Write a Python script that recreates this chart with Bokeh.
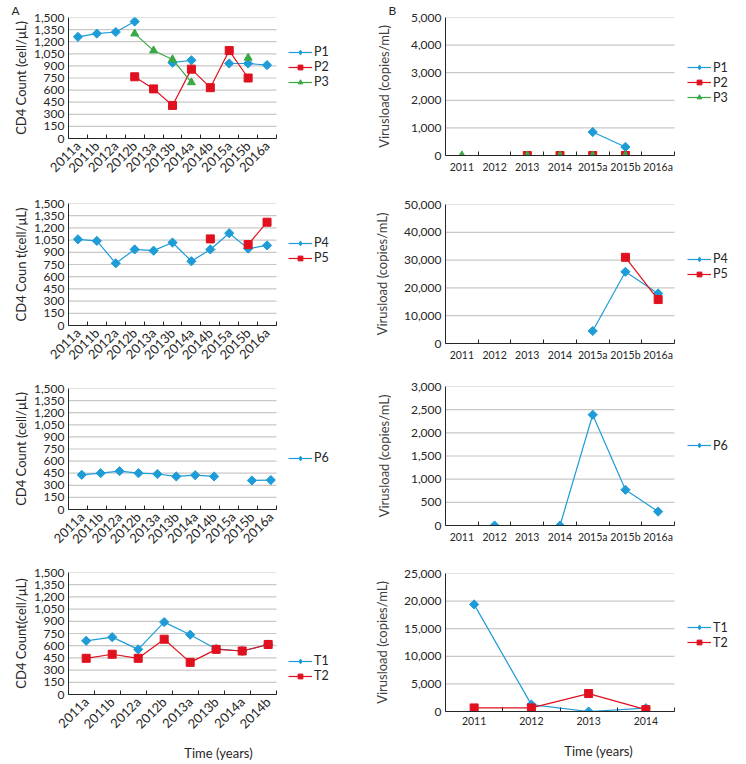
import math
from bokeh.plotting import figure
from bokeh.models import (FixedTicker, NumeralTickFormatter, Legend, LegendItem,
                          Title, ColumnDataSource)
from bokeh.layouts import row, column
from bokeh.embed import file_html
from bokeh.resources import INLINE

nan = float("nan")

# ---------------- data ----------------
cat_a = ["2011a", "2011b", "2012a", "2012b", "2013a", "2013b", "2014a", "2014b", "2015a", "2015b", "2016a"]
cat_b = ["2011", "2012", "2013", "2014", "2015a", "2015b", "2016a"]
cat_t = ["2011a", "2011b", "2012a", "2012b", "2013a", "2013b", "2014a", "2014b"]
cat_tb = ["2011", "2012", "2013", "2014"]

p1_cd4 = [1260, 1300, 1320, 1450, nan, 940, 970, nan, 930, 930, 910]
p2_cd4 = [nan, nan, nan, 765, 615, 410, 860, 630, 1090, 750, nan]
p3_cd4 = [nan, nan, nan, 1300, 1090, 980, 695, nan, nan, 1000, nan]
p4_cd4 = [1060, 1040, 765, 935, 920, 1020, 790, 935, 1135, 945, 985]
p5_cd4 = [nan, nan, nan, nan, nan, nan, nan, 1065, nan, 995, 1270]
p6_cd4 = [430, 450, 475, 450, 440, 410, 425, 410, nan, 360, 365]
t1_cd4 = [660, 705, 555, 890, 735, 560, 535, 615]
t2_cd4 = [445, 495, 445, 680, 395, 555, 535, 615]

p1_vl = [nan, nan, nan, nan, 850, 310, nan]
p2_vl = [nan, nan, 0, 0, 0, 0, nan]
p3_vl = [0, nan, 0, 0, 0, 0, nan]
p4_vl = [nan, nan, nan, nan, 4500, 25800, 18000]
p5_vl = [nan, nan, nan, nan, nan, 31000, 15800]
p6_vl = [nan, 0, nan, 0, 2390, 770, 300]
t1_vl = [19400, 1250, 0, 600]
t2_vl = [650, 650, 3250, 350]

# ---------------- style ----------------
FONT = "Lato"
BLUE = "#1E9CD7"
RED = "#E0101E"
GREEN = "#3AA845"
TXT = "#262626"
GRID = "#c8c8c8"
# (colour, marker, size, angle, legend marker, legend size)
DIAM = (BLUE, "square", 6.5, math.pi / 4, "diamond", 11.5)
SQ = (RED, "square", 8, 0, "square", 8)
TRI = (GREEN, "triangle", 8, 0, "triangle", 8)
STYLE = {"P1": DIAM, "P4": DIAM, "P6": DIAM, "T1": DIAM,
         "P2": SQ, "P5": SQ, "T2": SQ, "P3": TRI}


def make_fig(cats, yend, ystep, ylabel, width, height, left, data_w, top, bottom,
             rotate, offset=0.0, xlabel=None, ylabel_color=TXT, xlabel_standoff=16,
             ylabel_standoff=2):
    n = len(cats)
    right = 2
    frame_w = width - left - right
    frame_h = height - top - bottom
    x_end = n * frame_w / data_w          # plot area wider than the axis: room for the legend
    p = figure(frame_width=frame_w, frame_height=frame_h, x_range=(0, x_end), y_range=(0, yend),
               output_backend="svg", toolbar_location=None,
               min_border_left=left, min_border_right=right,
               min_border_top=top, min_border_bottom=bottom)
    p.outline_line_color = None
    p.background_fill_color = "white"
    p.xgrid.visible = False
    p.ygrid.visible = False

    yticks = list(range(0, yend + 1, ystep))
    # horizontal gridlines limited to the axis extent
    p.segment(x0=[0] * len(yticks), x1=[n] * len(yticks), y0=yticks, y1=yticks,
              line_color=GRID, line_width=1.2, level="underlay")

    centers = [i + 0.5 + offset for i in range(n)]
    p.xaxis.bounds = (0, n)
    p.xaxis.ticker = FixedTicker(ticks=centers, minor_ticks=list(range(n + 1)))
    p.xaxis.major_label_overrides = {c: lab for c, lab in zip(centers, cats)}
    p.xaxis.major_tick_in = 0
    p.xaxis.major_tick_out = 0
    p.xaxis.minor_tick_in = 4
    p.xaxis.minor_tick_out = 0
    p.xaxis.minor_tick_line_color = "#262626"
    p.xaxis.axis_line_color = "#262626"
    p.xaxis.major_label_text_font = FONT
    p.xaxis.major_label_text_color = TXT
    if rotate:
        p.xaxis.major_label_text_font_size = "13px"
        p.xaxis.major_label_orientation = math.pi / 4
        p.xaxis.major_label_standoff = 5
    else:
        p.xaxis.major_label_text_font_size = "10.5px"
        p.xaxis.major_label_standoff = 5
    if xlabel:
        p.xaxis.axis_label = xlabel
        p.xaxis.axis_label_text_font = FONT
        p.xaxis.axis_label_text_font_size = "13px"
        p.xaxis.axis_label_text_font_style = "normal"
        p.xaxis.axis_label_text_color = TXT
        p.xaxis.axis_label_standoff = xlabel_standoff

    p.yaxis.ticker = FixedTicker(ticks=yticks)
    p.yaxis.formatter = NumeralTickFormatter(format="0,0")
    p.yaxis.major_tick_in = 0
    p.yaxis.major_tick_out = 0
    p.yaxis.minor_tick_in = 0
    p.yaxis.minor_tick_out = 0
    p.yaxis.axis_line_color = "#262626"
    p.yaxis.major_label_text_font = FONT
    p.yaxis.major_label_text_font_size = "12px"
    p.yaxis.major_label_text_color = TXT
    p.yaxis.major_label_standoff = 4
    p.yaxis.axis_label = ylabel
    p.yaxis.axis_label_text_font = FONT
    p.yaxis.axis_label_text_font_size = "13px"
    p.yaxis.axis_label_text_font_style = "normal"
    p.yaxis.axis_label_text_color = ylabel_color
    p.yaxis.axis_label_standoff = ylabel_standoff
    return p, centers


def add_series(p, centers, series, legend_loc):
    items = []
    for name, vals in series:
        color, marker, size, angle, lmarker, lsize = STYLE[name]
        src = ColumnDataSource(dict(x=centers, y=vals))
        lr = p.line("x", "y", source=src, line_color=color, line_width=1.2)
        p.scatter("x", "y", source=src, marker=marker, size=size, angle=angle,
                  fill_color=color, line_color=color)
        # legend key symbol only (a single empty point, nothing drawn in the plot)
        kr = p.scatter(x=[nan], y=[nan], marker=lmarker, size=lsize,
                       fill_color=color, line_color=color)
        items.append(LegendItem(label=name, renderers=[lr, kr]))
    leg = Legend(items=items, location=legend_loc, orientation="vertical",
                 glyph_width=24, glyph_height=12, label_standoff=2, spacing=-3,
                 padding=0, margin=0, border_line_color=None,
                 background_fill_alpha=0, label_text_font=FONT,
                 label_text_font_size="12.5px", label_text_color=TXT,
                 label_height=12)
    p.add_layout(leg, "center")


def panel_label(p, text):
    t = Title(text=text, align="left", offset=-57, standoff=0,
              text_font=FONT, text_font_size="12px", text_font_style="normal",
              text_color=TXT)
    p.add_layout(t, "above")


WL, WR = 370, 376
DWL, DWR = 208, 229
VL_COLOR = "#404040"

# left column  (height, top, bottom)
a1, c = make_fig(cat_a, 1500, 150, "CD4 Count (cell/μL)", WL, 190, 68, DWL, 17, 52, True)
add_series(a1, c, [("P1", p1_cd4), ("P2", p2_cd4), ("P3", p3_cd4)], (220, 49))
panel_label(a1, "A")

a2, c = make_fig(cat_a, 1500, 150, "CD4 Coun t(cell/μL)", WL, 185, 68, DWL, 13, 50, True)
add_series(a2, c, [("P4", p4_cd4), ("P5", p5_cd4)], (220, 60))

a3, c = make_fig(cat_a, 1500, 150, "CD4 Count (cell/μL)", WL, 184, 68, DWL, 13, 50, True, offset=0.2)
add_series(a3, c, [("P6", p6_cd4)], (220, 44))

a4, c = make_fig(cat_t, 1500, 150, "CD4 Count(cell/μL)", WL, 203, 68, DWL, 13, 68, True,
                 offset=0.18, xlabel="Time (years)", xlabel_standoff=5)
add_series(a4, c, [("T1", t1_cd4), ("T2", t2_cd4)], (220, 11))

# right column
b1, c = make_fig(cat_b, 5000, 1000, "Virusload (copies/mL)", WR, 188, 68, DWR, 17, 33, False,
                 ylabel_color=VL_COLOR, ylabel_standoff=16)
add_series(b1, c, [("P1", p1_vl), ("P2", p2_vl), ("P3", p3_vl)], (242, 50.5))
panel_label(b1, "B")

b2, c = make_fig(cat_b, 50000, 10000, "Virusload (copies/mL)", WR, 180, 68, DWR, 16, 25, False,
                 ylabel_color=VL_COLOR, ylabel_standoff=11)
add_series(b2, c, [("P4", p4_vl), ("P5", p5_vl)], (242, 62))

b3, c = make_fig(cat_b, 3000, 500, "Virusload (copies/mL)", WR, 180, 68, DWR, 18, 23, False,
                 ylabel_color=VL_COLOR, ylabel_standoff=16)
add_series(b3, c, [("P6", p6_vl)], (242, 72.5))

b4, c = make_fig(cat_tb, 25000, 5000, "Virusload (copies/mL)", WR, 214, 68, DWR, 25, 51, False,
                 xlabel="Time (years)", ylabel_color=VL_COLOR, xlabel_standoff=15,
                 ylabel_standoff=11)
add_series(b4, c, [("T1", t1_vl), ("T2", t2_vl)], (242, 61.5))

layout = row(column(a1, a2, a3, a4), column(b1, b2, b3, b4))

open("out.html", "w").write(file_html(layout, INLINE))
